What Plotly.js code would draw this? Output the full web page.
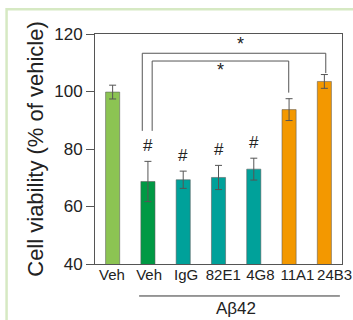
<!DOCTYPE html>
<html>
<head>
<meta charset="utf-8">
<script src="https://cdn.plot.ly/plotly-3.0.1.min.js"></script>
<style>html,body{margin:0;padding:0;background:#fff;}#chart{width:353px;height:320px;}</style>
</head>
<body>
<div id="chart"></div>
<script>
// Data
var categories = ['Veh', 'Veh', 'IgG', '82E1', '4G8', '11A1', '24B3'];
var viability = [99.8, 68.7, 69.3, 70.1, 73.0, 93.7, 103.5];
var errors = [2.4, 7.0, 3.0, 4.2, 3.8, 3.8, 2.4];
var barColors = ['#8cc453', '#009944', '#00a19a', '#00a19a', '#00a19a', '#f39800', '#f39800'];
var hashMarks = ['', '#', '#', '#', '#', '', ''];
var yTicks = [40, 60, 80, 100, 120];
var groupLabel = 'A\u03b242';
// significance brackets: [leftX, rightX, topY, leftBottomY, rightBottomY, starX, starY]
var brackets = [
  [0.84, 6.04, 113.3, 86.3, 106.4, 3.62, 116.6],
  [1.12, 4.99, 110.6, 86.3, 99.6, 3.05, 107.4]
];

var font = 'Liberation Sans, Arial, sans-serif';
var positions = categories.map(function(c, i) { return i; });

var trace = {
  type: 'bar',
  x: positions,
  y: viability,
  marker: {color: barColors, line: {color: 'rgba(90,90,90,0.55)', width: 1}},
  width: 0.4,
  error_y: {type: 'data', array: errors, visible: true, color: '#555', thickness: 1, width: 3.5},
  hoverinfo: 'none'
};
// invisible helper trace for the spread-out category label axis
var labelTrace = {
  type: 'scatter', mode: 'markers', x: positions, y: viability, xaxis: 'x2', yaxis: 'y',
  marker: {opacity: 0}, hoverinfo: 'none', showlegend: false
};

var shapes = [
  // outer light green frame
  {type: 'rect', xref: 'paper', yref: 'paper', x0: -0.358, x1: 1.2, y0: -0.5, y1: 1.108,
   line: {color: '#d6e9c3', width: 2.5}, layer: 'below'},
  // group line under labels
  {type: 'line', xref: 'x', yref: 'paper', x0: 0.75, x1: 6.44, y0: -0.139, y1: -0.139,
   line: {color: '#333', width: 1}}
];
var annotations = [];
brackets.forEach(function(b) {
  shapes.push({type: 'path', xref: 'x', yref: 'y',
    path: 'M' + b[0] + ',' + b[3] + ' L' + b[0] + ',' + b[2] + ' L' + b[1] + ',' + b[2] + ' L' + b[1] + ',' + b[4],
    line: {color: '#555', width: 1}});
  annotations.push({x: b[5], y: b[6], xref: 'x', yref: 'y', text: '*', showarrow: false,
    font: {family: font, size: 18, color: '#222'}});
});
for (var i = 0; i < categories.length; i++) {
  if (hashMarks[i]) {
    annotations.push({x: positions[i], y: viability[i] + errors[i], xref: 'x', yref: 'y',
      text: hashMarks[i], showarrow: false, yanchor: 'bottom', yshift: 4,
      font: {family: font, size: 17, color: '#222'}});
  }
}
annotations.push({x: 3.5, y: -0.245, xref: 'x', yref: 'paper', text: groupLabel, showarrow: false,
  font: {family: font, size: 17, color: '#222'}});

var layout = {
  width: 353, height: 320,
  margin: {l: 95, r: 11, t: 34, b: 56},
  paper_bgcolor: '#fff', plot_bgcolor: '#fff',
  showlegend: false,
  font: {family: font, color: '#222'},
  xaxis: {
    range: [-0.5, 6.5], tickvals: positions, showticklabels: false,
    showline: true, linecolor: '#555', linewidth: 1, mirror: true,
    ticks: '', showgrid: false, zeroline: false
  },
  xaxis2: {
    overlaying: 'x', side: 'bottom', range: [-0.458, 6.2],
    tickvals: positions, ticktext: categories, tickangle: 0,
    showline: false, ticks: '', showgrid: false, zeroline: false,
    tickfont: {family: font, size: 15, color: '#222'}
  },
  yaxis: {
    range: [40, 120], tickvals: yTicks, ticktext: yTicks.map(String),
    showline: true, linecolor: '#555', linewidth: 1, mirror: true,
    ticks: 'outside', ticklen: 8, tickcolor: '#555', showgrid: false, zeroline: false,
    tickfont: {family: font, size: 17, color: '#222'},
    title: {text: 'Cell viability (% of vehicle)', font: {family: font, size: 22, color: '#222'}, standoff: 4}
  },
  shapes: shapes,
  annotations: annotations
};

Plotly.newPlot('chart', [trace, labelTrace], layout, {staticPlot: true, displayModeBar: false});
</script>
</body>
</html>
